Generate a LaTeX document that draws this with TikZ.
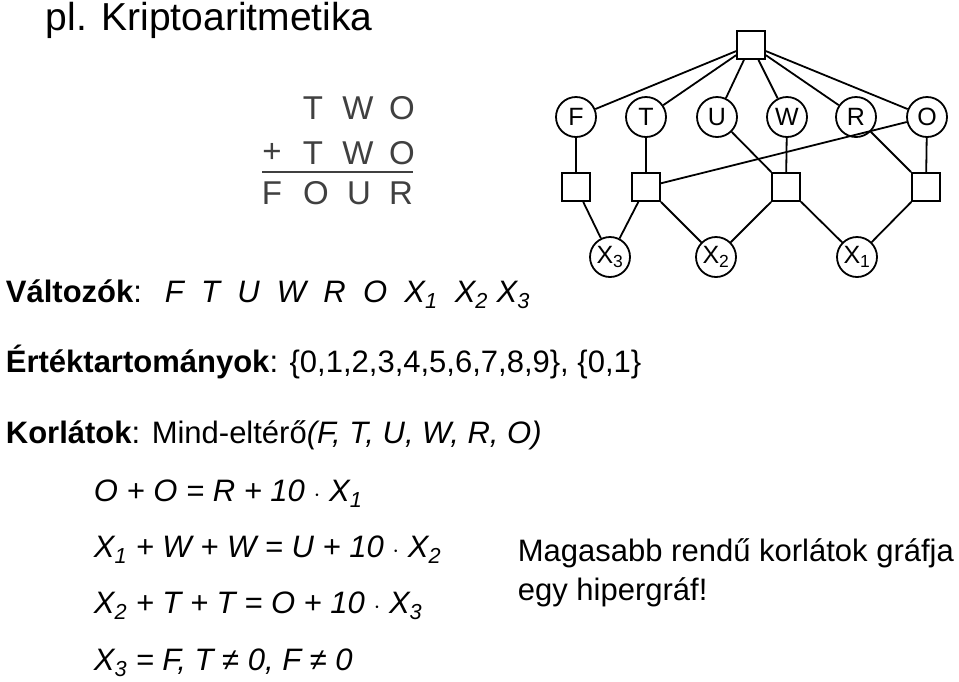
\documentclass[tikz,border=0pt]{standalone}
\usepackage{fontspec}
\setmainfont{Liberation Sans}
\begin{document}
\begin{tikzpicture}[x=1pt,y=-1pt,
  var/.style={draw,circle,minimum size=40pt,inner sep=0pt,font=\fontsize{25}{27}\selectfont},
  con/.style={draw,rectangle,minimum size=28pt,inner sep=0pt},
  txt/.style={anchor=base west,inner sep=0pt,font=\fontsize{31}{34}\selectfont},
  puz/.style={inner sep=0pt,text=black!75,font=\fontsize{33}{36}\selectfont},
  every path/.style={line width=1.8pt}]
\useasboundingbox (0,0) rectangle (959,681);
\node[anchor=base west,inner sep=0pt,font=\fontsize{39}{42}\selectfont] (title) at (45,30) {pl. Kriptoaritmetika};
% puzzle
\node[puz] (p1) at (313,108) {T}; \node[puz] (p2) at (358,108) {W}; \node[puz] (p3) at (402,108) {O};
\node[puz] (p0) at (272,153) {+}; \node[puz] (p4) at (313,153) {T}; \node[puz] (p5) at (358,153) {W}; \node[puz] (p6) at (402,153) {O};
\coordinate (la) at (262,172); \coordinate (lb) at (413,172);
\draw[black!75,line width=2pt] (la) -- (lb);
\node[puz] (q1) at (272,193) {F}; \node[puz] (q2) at (316,193) {O}; \node[puz] (q3) at (359,193) {U}; \node[puz] (q4) at (401,193) {R};
% graph
\node[con] (top) at (751,45) {};
\node[var] (F) at (576,117) {F};
\node[var] (T) at (646,117) {T};
\node[var] (U) at (717,117) {U};
\node[var] (W) at (787,117) {W};
\node[var] (R) at (856,117) {R};
\node[var] (O) at (927,117) {O};
\node[con] (s1) at (576,187) {};
\node[con] (s2) at (646,187) {};
\node[con] (s3) at (786,187) {};
\node[con] (s4) at (926,187) {};
\node[var] (X3) at (610,257) {X\textsubscript{3}};
\node[var] (X2) at (716,257) {X\textsubscript{2}};
\node[var] (X1) at (857,257) {X\textsubscript{1}};
\foreach \v in {F,T,U,W,R,O} \draw (top) -- (\v);
\draw (F) -- (s1); \draw (T) -- (s2); \draw (O) -- (s2);
\draw (U) -- (s3); \draw (W) -- (s3); \draw (R) -- (s4); \draw (O) -- (s4);
\draw (s1) -- (X3); \draw (s2) -- (X3); \draw (s2) -- (X2);
\draw (s3) -- (X2); \draw (s3) -- (X1); \draw (s4) -- (X1);
% text
\node[txt] (l1) at (5,302) {\textbf{Változók}: \textit{ F \ T \ U \ W \ R \ O \ X\textsubscript{1} \ X\textsubscript{2} X\textsubscript{3}}};
\node[txt] (l2) at (5,372) {\textbf{Értéktartományok}: \{0,1,2,3,4,5,6,7,8,9\}, \{0,1\}};
\node[txt] (l3) at (5,443) {\textbf{Korlátok}: Mind-eltérő\textit{(F, T, U, W, R, O)}};
\node[txt] (l4) at (93,501) {\textit{O + O = R + 10 $\cdot$ X\textsubscript{1}}};
\node[txt] (l5) at (93,557) {\textit{X\textsubscript{1} + W + W = U + 10 $\cdot$ X\textsubscript{2}}};
\node[txt] (l6) at (93,613) {\textit{X\textsubscript{2} + T + T = O + 10 $\cdot$ X\textsubscript{3}}};
\node[txt] (l7) at (93,670) {\textit{X\textsubscript{3} = F, T ≠ 0, F ≠ 0}};
\node[txt] (m1) at (517,561) {Magasabb rendű korlátok gráfja};
\node[txt] (m2) at (517,600) {egy hipergráf!};
\end{tikzpicture}
\end{document}
